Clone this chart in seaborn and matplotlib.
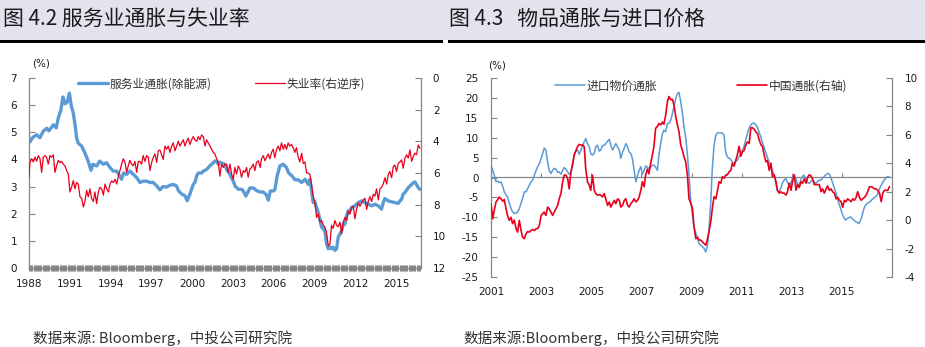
import matplotlib
matplotlib.use('Agg')
import matplotlib.pyplot as plt
import seaborn as sns
from matplotlib.patches import Rectangle
from matplotlib.lines import Line2D
import matplotlib.ticker as mticker

# ---------------- data: figure 4.2 ----------------
svc_years = [1988.00, 1988.08, 1988.25, 1988.56, 1988.80, 1989.05, 1989.30, 1989.45, 1989.80, 1990.00,
             1990.15, 1990.35, 1990.50, 1990.65, 1990.80, 1990.97, 1991.10, 1991.26, 1991.40, 1991.50,
             1991.62, 1991.87, 1992.10, 1992.35, 1992.56, 1992.70, 1992.98, 1993.20, 1993.47, 1993.70,
             1993.96, 1994.20, 1994.45, 1994.81, 1994.95, 1995.18, 1995.42, 1995.67, 1995.92, 1996.16,
             1996.40, 1996.65, 1996.90, 1997.14, 1997.40, 1997.63, 1997.85, 1998.10, 1998.37, 1998.60,
             1998.85, 1999.00, 1999.25, 1999.47, 1999.64, 1999.85, 2000.08, 2000.20, 2000.33, 2000.45,
             2000.70, 2000.82, 2001.06, 2001.30, 2001.43, 2001.68, 2001.80, 2001.92, 2002.04, 2002.41,
             2002.53, 2002.78, 2002.92, 2003.03, 2003.15, 2003.40, 2003.64, 2003.76, 2003.95, 2004.25,
             2004.50, 2004.74, 2005.00, 2005.23, 2005.45, 2005.60, 2005.75, 2006.00, 2006.09, 2006.25,
             2006.45, 2006.70, 2006.94, 2007.10, 2007.35, 2007.56, 2007.80, 2008.05, 2008.30, 2008.54,
             2008.66, 2008.78, 2008.90, 2009.02, 2009.15, 2009.27, 2009.39, 2009.52, 2009.65, 2009.77,
             2009.89, 2010.01, 2010.13, 2010.25, 2010.37, 2010.50, 2010.62, 2010.74, 2010.87, 2011.00,
             2011.12, 2011.24, 2011.36, 2011.48, 2011.60, 2011.72, 2011.97, 2012.22, 2012.46, 2012.71,
             2012.95, 2013.20, 2013.44, 2013.69, 2013.93, 2014.05, 2014.17, 2014.42, 2014.66, 2014.91,
             2015.16, 2015.28, 2015.40, 2015.52, 2015.65, 2015.89, 2016.02, 2016.14, 2016.26, 2016.38,
             2016.50, 2016.63, 2016.75]
svc_infl = [4.75, 4.65, 4.80, 4.91, 4.80, 5.04, 5.15, 5.05, 5.28, 5.16,
            5.52, 5.83, 6.30, 6.05, 6.10, 6.44, 6.00, 5.70, 5.22, 4.80,
            4.60, 4.49, 4.25, 3.94, 3.60, 3.82, 3.76, 3.94, 3.82, 3.88,
            3.70, 3.57, 3.57, 3.27, 3.50, 3.45, 3.57, 3.45, 3.33, 3.15,
            3.20, 3.20, 3.15, 3.15, 3.02, 2.88, 3.00, 2.98, 3.05, 3.08,
            3.02, 2.84, 2.72, 2.66, 2.48, 2.75, 3.08, 3.15, 3.39, 3.50,
            3.50, 3.57, 3.63, 3.76, 3.82, 3.94, 3.94, 3.82, 3.90, 3.82,
            3.63, 3.45, 3.30, 3.20, 3.02, 2.90, 2.90, 2.84, 2.65, 2.95,
            2.95, 2.85, 2.80, 2.80, 2.70, 2.50, 2.84, 2.84, 2.90, 3.39,
            3.76, 3.82, 3.70, 3.50, 3.39, 3.25, 3.25, 3.15, 3.27, 3.08,
            3.27, 2.84, 2.41, 2.45, 2.23, 2.05, 1.80, 1.50, 1.45, 1.32,
            0.89, 0.71, 0.77, 0.71, 0.77, 0.65, 0.71, 1.13, 1.26, 1.38,
            1.62, 1.62, 1.93, 2.11, 2.11, 2.23, 2.29, 2.41, 2.47, 2.41,
            2.35, 2.29, 2.35, 2.29, 2.17, 2.41, 2.56, 2.47, 2.44, 2.41,
            2.38, 2.47, 2.53, 2.72, 2.78, 2.96, 3.02, 3.08, 3.14, 3.17,
            3.08, 2.96, 2.90]

unemp_years = [1988.00, 1988.07, 1988.19, 1988.32, 1988.44, 1988.56, 1988.69, 1988.81, 1988.93, 1989.05,
               1989.17, 1989.29, 1989.42, 1989.54, 1989.66, 1989.79, 1989.91, 1990.03, 1990.15, 1990.28,
               1990.40, 1990.52, 1990.64, 1990.77, 1990.89, 1991.01, 1991.13, 1991.26, 1991.38, 1991.50,
               1991.62, 1991.75, 1991.87, 1992.00, 1992.11, 1992.24, 1992.36, 1992.48, 1992.60, 1992.73,
               1992.85, 1992.97, 1993.10, 1993.22, 1993.35, 1993.47, 1993.59, 1993.71, 1993.84, 1993.96,
               1994.08, 1994.20, 1994.33, 1994.45, 1994.57, 1994.69, 1994.81, 1994.94, 1995.06, 1995.18,
               1995.30, 1995.42, 1995.55, 1995.67, 1995.79, 1995.92, 1996.04, 1996.16, 1996.28, 1996.40,
               1996.53, 1996.65, 1996.77, 1996.90, 1997.02, 1997.14, 1997.26, 1997.39, 1997.51, 1997.63,
               1997.75, 1997.87, 1998.00, 1998.12, 1998.24, 1998.37, 1998.49, 1998.61, 1998.74, 1998.86,
               1998.98, 1999.10, 1999.22, 1999.35, 1999.47, 1999.59, 1999.71, 1999.84, 1999.96, 2000.08,
               2000.20, 2000.33, 2000.45, 2000.57, 2000.69, 2000.82, 2000.94, 2001.06, 2001.18, 2001.31,
               2001.43, 2001.55, 2001.67, 2001.80, 2001.92, 2002.04, 2002.16, 2002.29, 2002.41, 2002.53,
               2002.65, 2002.78, 2002.90, 2003.02, 2003.14, 2003.27, 2003.39, 2003.51, 2003.63, 2003.76,
               2003.88, 2004.00, 2004.12, 2004.24, 2004.37, 2004.49, 2004.61, 2004.73, 2004.86, 2005.00,
               2005.10, 2005.23, 2005.35, 2005.47, 2005.59, 2005.72, 2005.84, 2005.96, 2006.08, 2006.21,
               2006.33, 2006.45, 2006.57, 2006.70, 2006.82, 2006.94, 2007.06, 2007.18, 2007.31, 2007.43,
               2007.55, 2007.67, 2007.80, 2007.92, 2008.05, 2008.17, 2008.29, 2008.42, 2008.54, 2008.66,
               2008.78, 2008.90, 2009.03, 2009.15, 2009.27, 2009.39, 2009.52, 2009.64, 2009.76, 2009.88,
               2010.01, 2010.13, 2010.25, 2010.37, 2010.50, 2010.62, 2010.74, 2010.87, 2010.99, 2011.11,
               2011.24, 2011.36, 2011.48, 2011.60, 2011.72, 2011.85, 2011.97, 2012.09, 2012.22, 2012.34,
               2012.46, 2012.58, 2012.71, 2012.83, 2012.95, 2013.07, 2013.20, 2013.32, 2013.44, 2013.56,
               2013.69, 2013.81, 2013.93, 2014.05, 2014.18, 2014.30, 2014.42, 2014.54, 2014.67, 2014.79,
               2014.91, 2015.03, 2015.16, 2015.28, 2015.40, 2015.52, 2015.65, 2015.77, 2015.89, 2016.02,
               2016.14, 2016.26, 2016.38, 2016.50, 2016.63, 2016.75]
unemp = [6.27, 5.33, 5.10, 5.30, 5.00, 5.25, 4.90, 5.10, 5.96, 5.00,
         4.90, 5.00, 5.44, 4.90, 5.00, 4.85, 5.96, 5.55, 5.20, 5.35,
         5.27, 5.44, 5.55, 5.85, 6.06, 7.20, 6.90, 6.48, 7.00, 6.60,
         6.70, 7.50, 7.60, 8.15, 7.80, 7.10, 7.50, 7.00, 7.60, 7.80,
         7.20, 7.94, 7.20, 6.90, 7.00, 7.40, 6.70, 7.00, 7.20, 6.70,
         6.50, 6.60, 6.40, 6.70, 6.20, 5.85, 5.44, 5.10, 5.33, 5.96,
         5.55, 5.20, 5.44, 5.55, 5.27, 5.96, 5.27, 5.27, 5.44, 4.90,
         5.27, 4.90, 5.00, 5.85, 5.33, 5.00, 4.80, 5.33, 4.60, 4.55,
         4.85, 5.15, 4.30, 4.50, 4.30, 4.70, 4.30, 4.10, 4.60, 4.30,
         4.00, 4.30, 4.10, 3.90, 4.30, 4.00, 3.80, 4.20, 3.90, 3.70,
         3.90, 4.00, 3.70, 3.90, 3.60, 3.70, 4.30, 3.90, 4.10, 4.30,
         4.50, 4.70, 4.80, 5.10, 5.33, 6.20, 5.44, 5.65, 5.44, 5.44,
         5.96, 5.44, 6.06, 6.40, 5.65, 6.06, 5.55, 5.75, 6.27, 5.85,
         5.96, 5.65, 6.27, 5.75, 5.65, 5.44, 5.85, 5.33, 5.23, 5.65,
         5.10, 4.90, 5.23, 5.00, 4.80, 5.10, 4.70, 4.50, 5.03, 4.50,
         4.30, 4.60, 4.10, 4.50, 4.20, 4.50, 4.10, 4.30, 4.20, 4.40,
         4.70, 4.40, 5.00, 5.30, 4.75, 5.40, 5.30, 6.00, 6.00, 6.10,
         6.73, 7.46, 7.90, 8.80, 8.60, 9.10, 9.00, 9.30, 9.40, 9.75,
         10.60, 10.50, 9.30, 9.50, 9.00, 9.30, 9.40, 9.10, 9.85, 9.10,
         8.80, 9.00, 8.40, 8.60, 8.20, 8.10, 8.90, 8.30, 7.90, 8.10,
         7.90, 7.70, 7.60, 8.30, 7.80, 7.50, 7.80, 7.35, 7.45, 7.00,
         7.70, 7.00, 6.90, 6.70, 6.30, 6.70, 6.10, 5.90, 6.30, 5.60,
         5.50, 5.90, 5.40, 5.30, 5.17, 5.70, 5.06, 4.85, 5.06, 4.54,
         5.27, 4.96, 4.75, 4.85, 4.23, 4.44]

left_xticks = [1988, 1991, 1994, 1997, 2000, 2003, 2006, 2009, 2012, 2015]
left_yticks = [0, 1, 2, 3, 4, 5, 6, 7]
left_r_yticks = [0, 2, 4, 6, 8, 10, 12]

# ---------------- data: figure 4.3 ----------------
imp_years = [2001.00, 2001.07, 2001.13, 2001.20, 2001.27, 2001.33, 2001.40, 2001.47, 2001.53, 2001.60,
             2001.66, 2001.73, 2001.80, 2001.86, 2001.93, 2002.00, 2002.06, 2002.13, 2002.20, 2002.26,
             2002.33, 2002.40, 2002.46, 2002.53, 2002.60, 2002.66, 2002.73, 2002.80, 2002.86, 2002.93,
             2003.00, 2003.06, 2003.12, 2003.19, 2003.26, 2003.32, 2003.39, 2003.46, 2003.52, 2003.59,
             2003.66, 2003.72, 2003.79, 2003.86, 2003.92, 2003.99, 2004.06, 2004.12, 2004.19, 2004.26,
             2004.32, 2004.39, 2004.46, 2004.52, 2004.59, 2004.66, 2004.72, 2004.78, 2004.85, 2004.92,
             2004.98, 2005.05, 2005.12, 2005.18, 2005.25, 2005.32, 2005.38, 2005.45, 2005.52, 2005.58,
             2005.65, 2005.72, 2005.78, 2005.85, 2005.92, 2005.98, 2006.05, 2006.12, 2006.18, 2006.25,
             2006.32, 2006.38, 2006.45, 2006.51, 2006.58, 2006.64, 2006.71, 2006.78, 2006.85, 2006.91,
             2006.98, 2007.04, 2007.11, 2007.17, 2007.24, 2007.30, 2007.37, 2007.44, 2007.50, 2007.57,
             2007.64, 2007.70, 2007.77, 2007.84, 2007.90, 2007.97, 2008.04, 2008.10, 2008.17, 2008.24,
             2008.30, 2008.37, 2008.44, 2008.50, 2008.57, 2008.64, 2008.70, 2008.77, 2008.84, 2008.90,
             2008.97, 2009.04, 2009.10, 2009.17, 2009.24, 2009.30, 2009.37, 2009.44, 2009.50, 2009.57,
             2009.64, 2009.70, 2009.77, 2009.83, 2009.90, 2009.97, 2010.03, 2010.10, 2010.17, 2010.23,
             2010.30, 2010.36, 2010.43, 2010.50, 2010.56, 2010.63, 2010.70, 2010.76, 2010.83, 2010.90,
             2010.96, 2011.03, 2011.09, 2011.16, 2011.23, 2011.29, 2011.36, 2011.42, 2011.49, 2011.56,
             2011.62, 2011.69, 2011.76, 2011.82, 2011.89, 2011.96, 2012.02, 2012.09, 2012.16, 2012.22,
             2012.29, 2012.36, 2012.42, 2012.49, 2012.56, 2012.62, 2012.69, 2012.76, 2012.82, 2012.89,
             2012.96, 2013.02, 2013.09, 2013.16, 2013.22, 2013.29, 2013.36, 2013.42, 2013.49, 2013.55,
             2013.62, 2013.69, 2013.75, 2013.82, 2013.88, 2013.95, 2014.02, 2014.08, 2014.15, 2014.22,
             2014.28, 2014.35, 2014.42, 2014.48, 2014.55, 2014.62, 2014.68, 2014.75, 2014.82, 2014.88,
             2014.95, 2015.01, 2015.08, 2015.15, 2015.21, 2015.28, 2015.35, 2015.41, 2015.48, 2015.55,
             2015.61, 2015.68, 2015.75, 2015.81, 2015.88, 2015.94, 2016.01, 2016.08, 2016.14, 2016.21,
             2016.28, 2016.34, 2016.41, 2016.48, 2016.54, 2016.61, 2016.68, 2016.74, 2016.81, 2016.88]
imp_infl = [3.1, 1.8, 0.6, -1.1, -0.9, -1.3, -1.1, -2.3, -3.6, -4.4,
            -4.9, -6.5, -7.8, -8.6, -9.0, -9.0, -8.6, -7.8, -6.5, -5.3,
            -3.6, -3.6, -2.8, -1.9, -1.1, -0.7, 0.6, 1.8, 2.7, 3.5,
            4.8, 6.0, 7.4, 6.9, 3.9, 1.8, 1.0, 1.8, 2.3, 2.1,
            1.3, 1.4, 0.8, 1.8, 2.5, 2.1, 1.4, 0.8, 1.4, 3.1,
            5.6, 6.6, 6.9, 5.8, 6.9, 8.1, 9.0, 9.8, 8.5, 7.7,
            6.0, 5.6, 6.2, 7.7, 8.1, 6.6, 6.9, 8.0, 8.1, 8.5,
            9.1, 9.6, 8.1, 6.9, 7.7, 8.5, 7.7, 6.9, 4.8, 6.4,
            7.4, 8.5, 7.7, 6.4, 6.0, 4.8, 1.8, -1.1, 0.6, 1.8,
            2.7, 0.8, 1.8, 2.9, 2.6, 2.3, 2.6, 3.1, 3.1, 2.6,
            1.8, 5.6, 8.5, 11.0, 11.9, 11.5, 13.6, 13.6, 14.4, 16.1,
            17.8, 19.8, 21.1, 21.4, 19.0, 16.1, 12.7, 10.0, 5.6, 0.6,
            -6.1, -9.5, -12.4, -14.0, -15.3, -16.6, -17.0, -17.4, -17.8, -18.7,
            -17.0, -12.8, -6.1, 2.3, 8.1, 10.6, 11.2, 11.2, 11.2, 11.2,
            10.6, 6.4, 5.2, 4.8, 4.6, 3.8, 3.5, 4.0, 4.4, 5.2,
            6.0, 6.8, 7.7, 9.4, 11.0, 12.3, 13.1, 13.6, 13.7, 13.3,
            12.7, 11.5, 10.3, 9.0, 7.7, 6.4, 5.2, 3.9, 3.1, 1.8,
            0.6, -1.1, -3.2, -3.6, -2.8, -1.5, -0.7, -0.25, -1.1, -1.9,
            -1.5, -0.25, 0.6, -0.25, -1.5, -1.9, -0.7, 0.2, 0.6, -0.25,
            -1.1, -1.5, -1.1, -0.7, -0.9, -1.5, -1.1, -0.7, -0.7, -0.25,
            0.2, 0.6, 1.0, 1.0, 0.2, -1.1, -2.3, -3.6, -5.3, -6.5,
            -7.8, -9.0, -10.1, -10.7, -10.3, -10.1, -9.9, -10.3, -10.7, -11.1,
            -11.3, -11.6, -10.7, -9.5, -7.8, -7.0, -6.5, -6.3, -6.0, -5.5,
            -5.1, -4.9, -4.4, -3.2, -2.3, -1.5, -0.7, -0.25, 0.2, 0.2]

cpi_years = [2001.00, 2001.07, 2001.13, 2001.20, 2001.27, 2001.33, 2001.40, 2001.47, 2001.53, 2001.60,
             2001.66, 2001.73, 2001.80, 2001.86, 2001.93, 2002.00, 2002.06, 2002.13, 2002.20, 2002.26,
             2002.33, 2002.40, 2002.46, 2002.53, 2002.60, 2002.66, 2002.73, 2002.80, 2002.86, 2002.93,
             2003.00, 2003.06, 2003.12, 2003.19, 2003.26, 2003.32, 2003.39, 2003.46, 2003.52, 2003.59,
             2003.66, 2003.72, 2003.79, 2003.86, 2003.92, 2003.99, 2004.06, 2004.12, 2004.19, 2004.26,
             2004.32, 2004.39, 2004.46, 2004.52, 2004.59, 2004.66, 2004.72, 2004.78, 2004.85, 2004.92,
             2004.98, 2005.05, 2005.12, 2005.18, 2005.25, 2005.32, 2005.38, 2005.45, 2005.52, 2005.58,
             2005.65, 2005.72, 2005.78, 2005.85, 2005.92, 2005.98, 2006.05, 2006.12, 2006.18, 2006.25,
             2006.32, 2006.38, 2006.45, 2006.51, 2006.58, 2006.64, 2006.71, 2006.78, 2006.85, 2006.91,
             2006.98, 2007.04, 2007.11, 2007.17, 2007.24, 2007.30, 2007.37, 2007.44, 2007.50, 2007.57,
             2007.64, 2007.70, 2007.77, 2007.84, 2007.90, 2007.97, 2008.04, 2008.10, 2008.17, 2008.24,
             2008.30, 2008.37, 2008.44, 2008.50, 2008.57, 2008.64, 2008.70, 2008.77, 2008.84, 2008.90,
             2008.97, 2009.04, 2009.10, 2009.17, 2009.24, 2009.30, 2009.37, 2009.44, 2009.50, 2009.57,
             2009.64, 2009.70, 2009.77, 2009.84, 2009.90, 2009.97, 2010.04, 2010.10, 2010.17, 2010.23,
             2010.30, 2010.37, 2010.43, 2010.50, 2010.57, 2010.63, 2010.70, 2010.77, 2010.83, 2010.90,
             2010.97, 2011.03, 2011.10, 2011.17, 2011.23, 2011.30, 2011.37, 2011.43, 2011.50, 2011.57,
             2011.63, 2011.70, 2011.77, 2011.83, 2011.90, 2011.97, 2012.03, 2012.10, 2012.17, 2012.23,
             2012.30, 2012.37, 2012.43, 2012.50, 2012.57, 2012.63, 2012.70, 2012.77, 2012.83, 2012.90,
             2012.97, 2013.03, 2013.10, 2013.17, 2013.23, 2013.30, 2013.37, 2013.43, 2013.50, 2013.57,
             2013.63, 2013.70, 2013.77, 2013.83, 2013.90, 2013.97, 2014.03, 2014.10, 2014.17, 2014.23,
             2014.30, 2014.37, 2014.43, 2014.50, 2014.57, 2014.63, 2014.70, 2014.77, 2014.83, 2014.90,
             2014.97, 2015.03, 2015.10, 2015.17, 2015.23, 2015.30, 2015.37, 2015.43, 2015.50, 2015.57,
             2015.63, 2015.70, 2015.77, 2015.83, 2015.90, 2015.97, 2016.03, 2016.10, 2016.17, 2016.23,
             2016.30, 2016.37, 2016.43, 2016.50, 2016.57, 2016.63, 2016.70, 2016.77, 2016.83, 2016.90]
cn_cpi = [1.16, 0.10, 0.69, 1.28, 1.45, 1.63, 1.50, 1.33, 1.45, 0.80,
          0.33, -0.02, 0.20, -0.25, 0.00, -0.60, -0.84, -0.02, -0.73, -1.20,
          -1.30, -0.96, -0.80, -0.84, -0.73, -0.66, -0.73, -0.60, -0.60, -0.37,
          0.33, 0.45, 0.57, 0.33, 0.92, 0.80, 0.57, 0.33, 0.57, 0.80,
          1.04, 1.50, 1.87, 2.70, 3.17, 3.17, 2.93, 2.20, 3.40, 4.00,
          4.60, 4.90, 5.20, 5.33, 5.28, 5.28, 5.17, 3.60, 2.70, 2.46,
          2.10, 3.17, 2.10, 1.87, 1.75, 1.80, 1.75, 1.63, 1.87, 1.50,
          1.04, 1.28, 0.92, 1.16, 1.40, 1.16, 1.50, 1.40, 0.92, 1.04,
          1.40, 1.50, 1.04, 0.92, 1.16, 1.28, 1.50, 1.28, 1.40, 1.63,
          2.10, 2.70, 2.35, 3.17, 3.60, 3.25, 4.00, 4.60, 5.17, 6.47,
          6.60, 6.80, 6.70, 6.90, 6.75, 7.40, 8.35, 8.70, 8.47, 8.50,
          8.10, 7.30, 6.70, 6.23, 5.30, 4.90, 4.46, 4.10, 3.10, 1.50,
          1.20, 0.82, -0.47, -1.30, -1.20, -1.40, -1.40, -1.53, -1.65, -1.76,
          -1.30, -0.80, -0.10, 0.94, 1.65, 1.50, 2.10, 2.70, 2.60, 3.06,
          2.95, 3.18, 3.18, 3.40, 3.50, 4.00, 3.80, 4.24, 4.60, 5.20,
          4.50, 4.80, 4.90, 5.30, 5.50, 5.40, 6.50, 6.50, 6.40, 6.20,
          6.10, 5.65, 5.30, 5.20, 4.60, 4.10, 4.20, 3.50, 4.00, 3.06,
          3.20, 2.70, 2.10, 1.90, 2.00, 1.90, 1.90, 1.76, 2.00, 2.60,
          2.10, 2.70, 3.20, 2.10, 2.50, 2.30, 2.70, 2.60, 2.90, 2.60,
          3.00, 3.20, 3.10, 2.90, 2.50, 2.50, 2.50, 2.50, 2.00, 2.20,
          1.90, 2.20, 2.40, 2.10, 2.20, 2.00, 1.90, 1.50, 1.60, 1.40,
          1.30, 0.90, 1.40, 1.30, 1.50, 1.40, 1.30, 1.50, 1.40, 1.60,
          2.00, 1.60, 1.40, 1.50, 1.60, 1.76, 2.00, 2.35, 2.35, 2.30,
          2.20, 2.20, 2.10, 1.90, 1.30, 1.90, 2.10, 2.10, 2.10, 2.35]

right_xticks = [2001, 2003, 2005, 2007, 2009, 2011, 2013, 2015]
right_yticks = [-25, -20, -15, -10, -5, 0, 5, 10, 15, 20, 25]
right_r_yticks = [-4, -2, 0, 2, 4, 6, 8, 10]

# ---------------- styling ----------------
sns.set_theme(style='white')
plt.rcParams['font.family'] = ['Noto Sans CJK SC', 'DejaVu Sans']
plt.rcParams['axes.unicode_minus'] = False

BLUE = '#5B9BD5'
RED = '#E8001C'
GRAY = '#868686'
TXT = '#1a1a1a'
TICKFONT = {'family': ['DejaVu Sans'], 'size': 7.5}

W, H = 925, 347
fig = plt.figure(figsize=(W / 100, H / 100), dpi=100)
fig.patch.set_facecolor('white')


def fx(px):
    return px / W


def fy(py):
    return 1 - py / H


# title band and rules
fig.add_artist(Rectangle((0, fy(40)), 1, 40 / H, transform=fig.transFigure,
                         facecolor='#e3e3ee', edgecolor='none', zorder=0))
fig.add_artist(Rectangle((0, fy(43)), 443 / W, 3 / H, transform=fig.transFigure,
                         facecolor='black', edgecolor='none', zorder=1))
fig.add_artist(Rectangle((fx(448), fy(43)), 477 / W, 3 / H, transform=fig.transFigure,
                         facecolor='black', edgecolor='none', zorder=1))
fig.text(fx(3), fy(19), '图 4.2 服务业通胀与失业率', fontsize=15, color=TXT, va='center', ha='left')
fig.text(fx(449), fy(19), '图 4.3   物品通胀与进口价格', fontsize=15, color=TXT, va='center', ha='left')

fig.text(fx(33), fy(338), '数据来源: Bloomberg，中投公司研究院', fontsize=10.5, color='#333333',
         va='center', ha='left', style='italic')
fig.text(fx(463), fy(338), '数据来源:Bloomberg，中投公司研究院', fontsize=10.5, color='#333333',
         va='center', ha='left', style='italic')


def style_ticklabels(axis_obj):
    for lab in axis_obj.get_ticklabels():
        lab.set_fontfamily(TICKFONT['family'])
        lab.set_fontsize(TICKFONT['size'])
        lab.set_color(TXT)


# ---------------- left chart ----------------
ax1 = fig.add_axes([fx(29), fy(268), 392 / W, 190 / H])
ax1.set_facecolor('none')
sns.lineplot(x=svc_years, y=svc_infl, ax=ax1, color=BLUE, linewidth=2.4)
ax1r = ax1.twinx()
sns.lineplot(x=unemp_years, y=unemp, ax=ax1r, color=RED, linewidth=0.9)

ax1.set_xlim(1988, 2016.83)
ax1.set_ylim(0, 7)
ax1r.set_ylim(12, 0)
ax1.set_xticks(left_xticks)
ax1.set_xticklabels([str(v) for v in left_xticks])
ax1.xaxis.set_minor_locator(mticker.MultipleLocator(1 / 12))
ax1.set_yticks(left_yticks)
ax1.set_yticklabels([str(v) for v in left_yticks])
ax1r.set_yticks(left_r_yticks)
ax1r.set_yticklabels([str(v) for v in left_r_yticks])
for a in (ax1, ax1r):
    a.set_xlabel('')
    a.set_ylabel('')
    a.spines['top'].set_visible(False)
ax1.spines['right'].set_visible(False)
ax1r.spines['left'].set_visible(False)
ax1r.spines['bottom'].set_visible(False)
for s in ('left', 'bottom'):
    ax1.spines[s].set_color(GRAY)
    ax1.spines[s].set_linewidth(0.9)
ax1r.spines['right'].set_color(GRAY)
ax1r.spines['right'].set_linewidth(0.9)
ax1.tick_params(axis='x', which='both', direction='inout', length=4, width=0.8, color=GRAY,
                pad=6, bottom=True)
ax1.tick_params(axis='y', which='major', direction='in', length=4, width=0.8, color=GRAY,
                pad=8.5, left=True)
ax1r.tick_params(axis='y', which='major', direction='in', length=4, width=0.8, color=GRAY,
                 pad=8.5, right=True)
style_ticklabels(ax1.xaxis)
style_ticklabels(ax1.yaxis)
style_ticklabels(ax1r.yaxis)
fig.text(fx(41), fy(64), '(%)', fontsize=7.5, color=TXT, ha='center', va='center',
         family=['DejaVu Sans'])

leg1 = ax1.legend(handles=[Line2D([], [], color=BLUE, lw=2.4)], labels=['服务业通胀(除能源)'],
                  loc='center left', bbox_to_anchor=(fx(78), fy(84)), bbox_transform=fig.transFigure,
                  frameon=False, fontsize=8.5, handlelength=2.5, handletextpad=0.2,
                  borderpad=0, borderaxespad=0)
leg1r = ax1r.legend(handles=[Line2D([], [], color=RED, lw=0.9)], labels=['失业率(右逆序)'],
                    loc='center left', bbox_to_anchor=(fx(255), fy(84)), bbox_transform=fig.transFigure,
                    frameon=False, fontsize=8.5, handlelength=2.5, handletextpad=0.2,
                    borderpad=0, borderaxespad=0)
for lg in (leg1, leg1r):
    for t in lg.get_texts():
        t.set_color('#333333')

# ---------------- right chart ----------------
ax2 = fig.add_axes([fx(491), fy(277), 401 / W, 199 / H])
ax2.set_facecolor('none')
sns.lineplot(x=imp_years, y=imp_infl, ax=ax2, color=BLUE, linewidth=1.1)
ax2r = ax2.twinx()
sns.lineplot(x=cpi_years, y=cn_cpi, ax=ax2r, color=RED, linewidth=1.2)

ax2.set_xlim(2001, 2017)
ax2.set_ylim(-25, 25)
ax2r.set_ylim(-4, 10)
ax2.set_xticks(right_xticks)
ax2.set_xticklabels([str(v) for v in right_xticks])
ax2.set_yticks(right_yticks)
ax2.set_yticklabels([str(v) for v in right_yticks])
ax2r.set_yticks(right_r_yticks)
ax2r.set_yticklabels([str(v) for v in right_r_yticks])
for a in (ax2, ax2r):
    a.set_xlabel('')
    a.set_ylabel('')
    a.spines['top'].set_visible(False)
    a.spines['bottom'].set_visible(False)
ax2.spines['right'].set_visible(False)
ax2r.spines['left'].set_visible(False)
ax2.spines['left'].set_color(GRAY)
ax2.spines['left'].set_linewidth(0.9)
ax2r.spines['right'].set_color(GRAY)
ax2r.spines['right'].set_linewidth(0.9)
ax2.tick_params(axis='x', which='major', length=0, pad=7)
ax2.tick_params(axis='y', which='major', direction='in', length=4, width=0.8, color=GRAY,
                pad=9, left=True)
ax2r.tick_params(axis='y', which='major', direction='in', length=4, width=0.8, color=GRAY,
                 pad=9, right=True)
style_ticklabels(ax2.xaxis)
style_ticklabels(ax2.yaxis)
style_ticklabels(ax2r.yaxis)

# zero line with small year ticks
zero_ax = ax2.secondary_xaxis(0.5)
zero_ax.set_xticks(right_xticks)
zero_ax.tick_params(axis='x', direction='out', length=3, width=0.8, color=GRAY,
                    labeltop=False, labelbottom=False)
for s in zero_ax.spines.values():
    s.set_color(GRAY)
    s.set_linewidth(0.9)

fig.text(fx(497), fy(65), '(%)', fontsize=7.5, color=TXT, ha='center', va='center',
         family=['DejaVu Sans'])

leg2 = ax2.legend(handles=[Line2D([], [], color=BLUE, lw=1.1)], labels=['进口物价通胀'],
                  loc='center left', bbox_to_anchor=(fx(555), fy(86)), bbox_transform=fig.transFigure,
                  frameon=False, fontsize=8.5, handlelength=2.5, handletextpad=0.2,
                  borderpad=0, borderaxespad=0)
leg2r = ax2r.legend(handles=[Line2D([], [], color=RED, lw=1.2)], labels=['中国通胀(右轴)'],
                    loc='center left', bbox_to_anchor=(fx(737), fy(86)), bbox_transform=fig.transFigure,
                    frameon=False, fontsize=8.5, handlelength=2.5, handletextpad=0.2,
                    borderpad=0, borderaxespad=0)
for lg in (leg2, leg2r):
    for t in lg.get_texts():
        t.set_color('#333333')

fig.savefig('out.png', dpi=100, facecolor='white')
